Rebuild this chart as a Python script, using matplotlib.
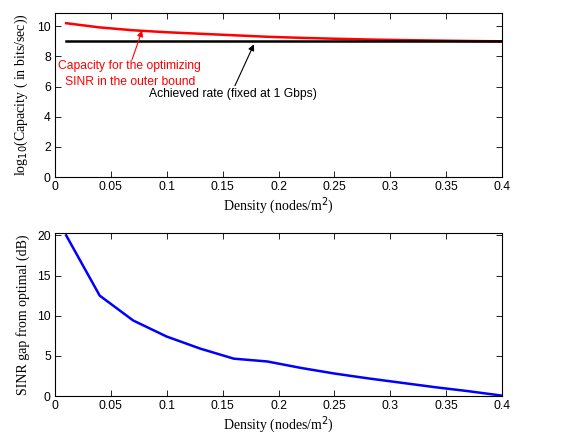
import matplotlib
matplotlib.use("Agg")
import matplotlib.pyplot as plt

density = [0.01, 0.04, 0.07, 0.10, 0.13, 0.16, 0.19, 0.22, 0.25, 0.28, 0.31, 0.34, 0.37, 0.40]
capacity_outer = [10.2, 9.92, 9.73, 9.6, 9.5, 9.4, 9.3, 9.23, 9.17, 9.12, 9.08, 9.05, 9.02, 9.0]
achieved = [9.0] * len(density)
sinr_gap = [20.0, 12.5, 9.4, 7.4, 5.9, 4.65, 4.3, 3.5, 2.8, 2.2, 1.65, 1.1, 0.6, 0.05]

xticks = [0, 0.05, 0.1, 0.15, 0.2, 0.25, 0.3, 0.35, 0.4]
xticklabels = ["0", "0.05", "0.1", "0.15", "0.2", "0.25", "0.3", "0.35", "0.4"]

tick_font = "Liberation Sans"
label_font = "Liberation Serif"
tick_size = 8.7
label_size = 10

fig = plt.figure(figsize=(5.74, 4.36), dpi=100)
ax1 = fig.add_axes([0.0958, 0.594, 0.7788, 0.377])
ax2 = fig.add_axes([0.0958, 0.0917, 0.7788, 0.374])

for ax in (ax1, ax2):
    ax.set_xlim(0, 0.4)
    ax.set_xticks(xticks)
    ax.set_xticklabels(xticklabels)
    ax.tick_params(direction="in", top=True, right=True, labelsize=tick_size, length=4, width=0.6, pad=3)
    for s in ax.spines.values():
        s.set_linewidth(0.8)
    ax.set_xlabel("Density (nodes/m$^2$)", fontfamily=label_font, fontsize=label_size, labelpad=1)

ax1.plot(density, capacity_outer, color="red", lw=1.8)
ax1.plot(density, achieved, color="black", lw=1.8)
ax1.set_ylim(0, 10.9)
ax1.set_yticks([0, 2, 4, 6, 8, 10])
ax1.set_ylabel("log$_{10}$(Capacity ( in bits/sec))", fontfamily=label_font, fontsize=label_size, labelpad=5)

ax2.plot(density, sinr_gap, color="blue", lw=1.8)
ax2.set_ylim(0, 20.3)
ax2.set_yticks([0, 5, 10, 15, 20])
ax2.set_ylabel("SINR gap from optimal (dB)", fontfamily=label_font, fontsize=label_size, labelpad=5)

for ax in (ax1, ax2):
    for lab in ax.get_xticklabels() + ax.get_yticklabels():
        lab.set_fontfamily(tick_font)

# annotations
ax1.text(0.067, 6.85, "Capacity for the optimizing\nSINR in the outer bound", color="red",
         fontfamily=tick_font, fontsize=tick_size, ha="center", va="center", linespacing=1.45)
ax1.annotate("", xy=(0.078, 9.72), xytext=(0.069, 7.8),
             arrowprops=dict(arrowstyle="-|>", color="red", lw=0.8, shrinkA=0, shrinkB=0,
                             mutation_scale=9))
ax1.text(0.084, 5.5, "Achieved rate (fixed at 1 Gbps)", color="black",
         fontfamily=tick_font, fontsize=tick_size, ha="left", va="center")
ax1.annotate("", xy=(0.178, 8.8), xytext=(0.161, 6.05),
             arrowprops=dict(arrowstyle="-|>", color="black", lw=0.8, shrinkA=0, shrinkB=0,
                             mutation_scale=9))

fig.savefig("out.png", dpi=100)
